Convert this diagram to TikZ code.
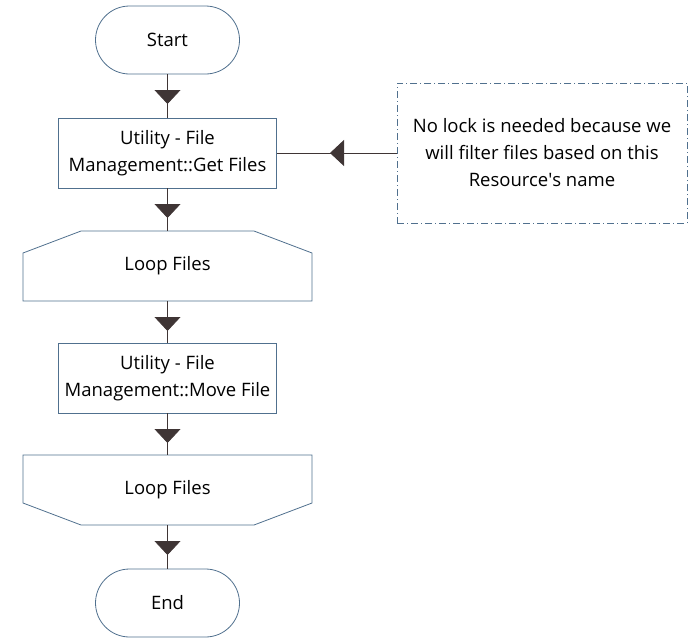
\documentclass[tikz,border=0pt]{standalone}
\usepackage{fontspec}
\setmainfont{Open Sans}
\usetikzlibrary{positioning,decorations.markings,arrows.meta}

\definecolor{edgegrey}{HTML}{3F3535}
\definecolor{boxblue}{HTML}{50708E}

\tikzset{
  flowtext/.style={font=\fontsize{18.5}{27}\selectfont,align=center,inner sep=0pt,outer sep=0pt},
  taskbox/.style={flowtext,draw=boxblue,line width=0.8pt,fill=white,minimum width=218pt,minimum height=70pt},
  termbox/.style={flowtext,draw=boxblue,line width=0.8pt,fill=white,minimum width=144pt,minimum height=68pt,rounded corners=34pt},
  loopbox/.style={flowtext,minimum width=289pt,minimum height=70pt},
  notebox/.style={flowtext,draw=boxblue,line width=0.8pt,dash pattern=on 7pt off 3pt on 1pt off 3pt,minimum width=290pt,minimum height=140pt},
  flowline/.style={edgegrey,line width=0.8pt,postaction={decorate},
    decoration={markings,mark=at position #1 with {\arrow{Triangle[width=26pt,length=14pt]}}}},
  flowline/.default=30pt,
}

\begin{document}
\begin{tikzpicture}[x=1pt,y=-1pt]
  \useasboundingbox (0,0) rectangle (698,643);
%%
  \node (node_start) at (167.5,40) [termbox] {Start};

  \node (node_get) at (167.5,153) [taskbox] {Utility - File\\Management::Get Files};

  \node (node_loop1) at (167.5,266) [loopbox] {Loop Files};

  \node (node_move) at (167.5,378) [taskbox] {Utility - File\\Management::Move File};

  \node (node_loop2) at (167.5,490) [loopbox] {Loop Files};

  \node (node_end) at (167.5,603) [termbox] {End};

  \node (node_note) at (542,153) [notebox] {No lock is needed because we\\will filter files based on this\\Resource\textquotesingle s name};

  \draw [boxblue,line width=0.8pt] ([xshift=58pt]node_loop1.north west) -- ([xshift=-58pt]node_loop1.north east)
    -- ([yshift=-22pt]node_loop1.north east) -- (node_loop1.south east) -- (node_loop1.south west)
    -- ([yshift=-22pt]node_loop1.north west) -- cycle;
  \draw [boxblue,line width=0.8pt] (node_loop2.north west) -- (node_loop2.north east)
    -- ([yshift=22pt]node_loop2.south east) -- ([xshift=-58pt]node_loop2.south east)
    -- ([xshift=58pt]node_loop2.south west) -- ([yshift=22pt]node_loop2.south west) -- cycle;

  \draw [flowline] (node_start) -- (node_get);
  \draw [flowline] (node_get) -- (node_loop1);
  \draw [flowline] (node_loop1) -- (node_move);
  \draw [flowline] (node_move) -- (node_loop2);
  \draw [flowline] (node_loop2) -- (node_end);
  \draw [flowline=67pt] (node_note) -- (node_get);
%
\end{tikzpicture}
\end{document}
